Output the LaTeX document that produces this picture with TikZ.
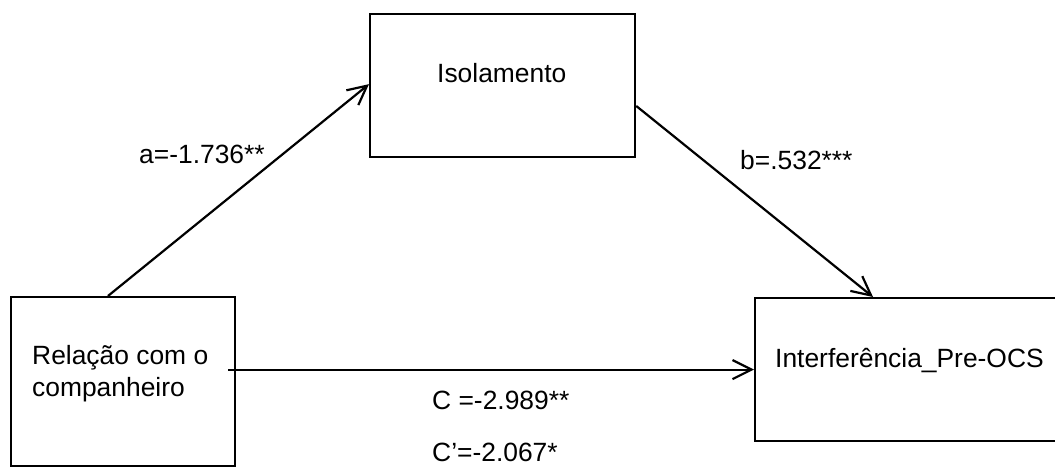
\documentclass[tikz,border=0pt]{standalone}
\usepackage{fontspec}
\setmainfont{Liberation Sans}
\usetikzlibrary{arrows.meta,calc}
\begin{document}
\begin{tikzpicture}[x=1pt,y=-1pt,
  box/.style={draw,line width=2.2pt,rectangle,inner sep=0pt,anchor=north west},
  txt/.style={anchor=base west,inner sep=0pt,font=\fontsize{26.4}{31.7}\selectfont},
  link/.style={line width=2.2pt,-{Straight Barb[length=19pt,width=19pt,line width=2.2pt]}}]
\useasboundingbox (0,0) rectangle (1055,466);
\clip (0,0) rectangle (1055,466);

% the three variables
\node[box,minimum width=224pt,minimum height=169pt] (rel) at (10,296) {};
\node[box,minimum width=265pt,minimum height=143.3pt] (iso) at (369,12.7) {};
\node[box,minimum width=330pt,minimum height=143pt] (out) at (754,297) {};

\node[txt] (relA) at (32,364) {Relação com o};
\node[txt] (relB) at (32,396) {companheiro};
\node[txt] (isoT) at (437,82) {Isolamento};
\node[txt] (outT) at (775,367) {Interferência\_Pre-OCS};

% paths of the mediation model
\draw[link] ($(rel.north west)!0.433!(rel.north east)$) -- ($(iso.west)+(0,-1.3)$);
\draw[link] ($(iso.east)+(0,20.5)$) -- ($(out.north west)+(119,0)$);
\draw[link] ($(rel.east |- out.west)+(-8,0)$) -- (out.west);

% coefficients
\node[txt] (labA) at (139,163) {a=-1.736**};
\node[txt] (labB) at (740,169) {b=.532***};
\node[txt] (labC) at (432,409) {C =-2.989**};
\node[txt] (labCp) at (432,461.5) {C’=-2.067*};
\end{tikzpicture}
\end{document}
